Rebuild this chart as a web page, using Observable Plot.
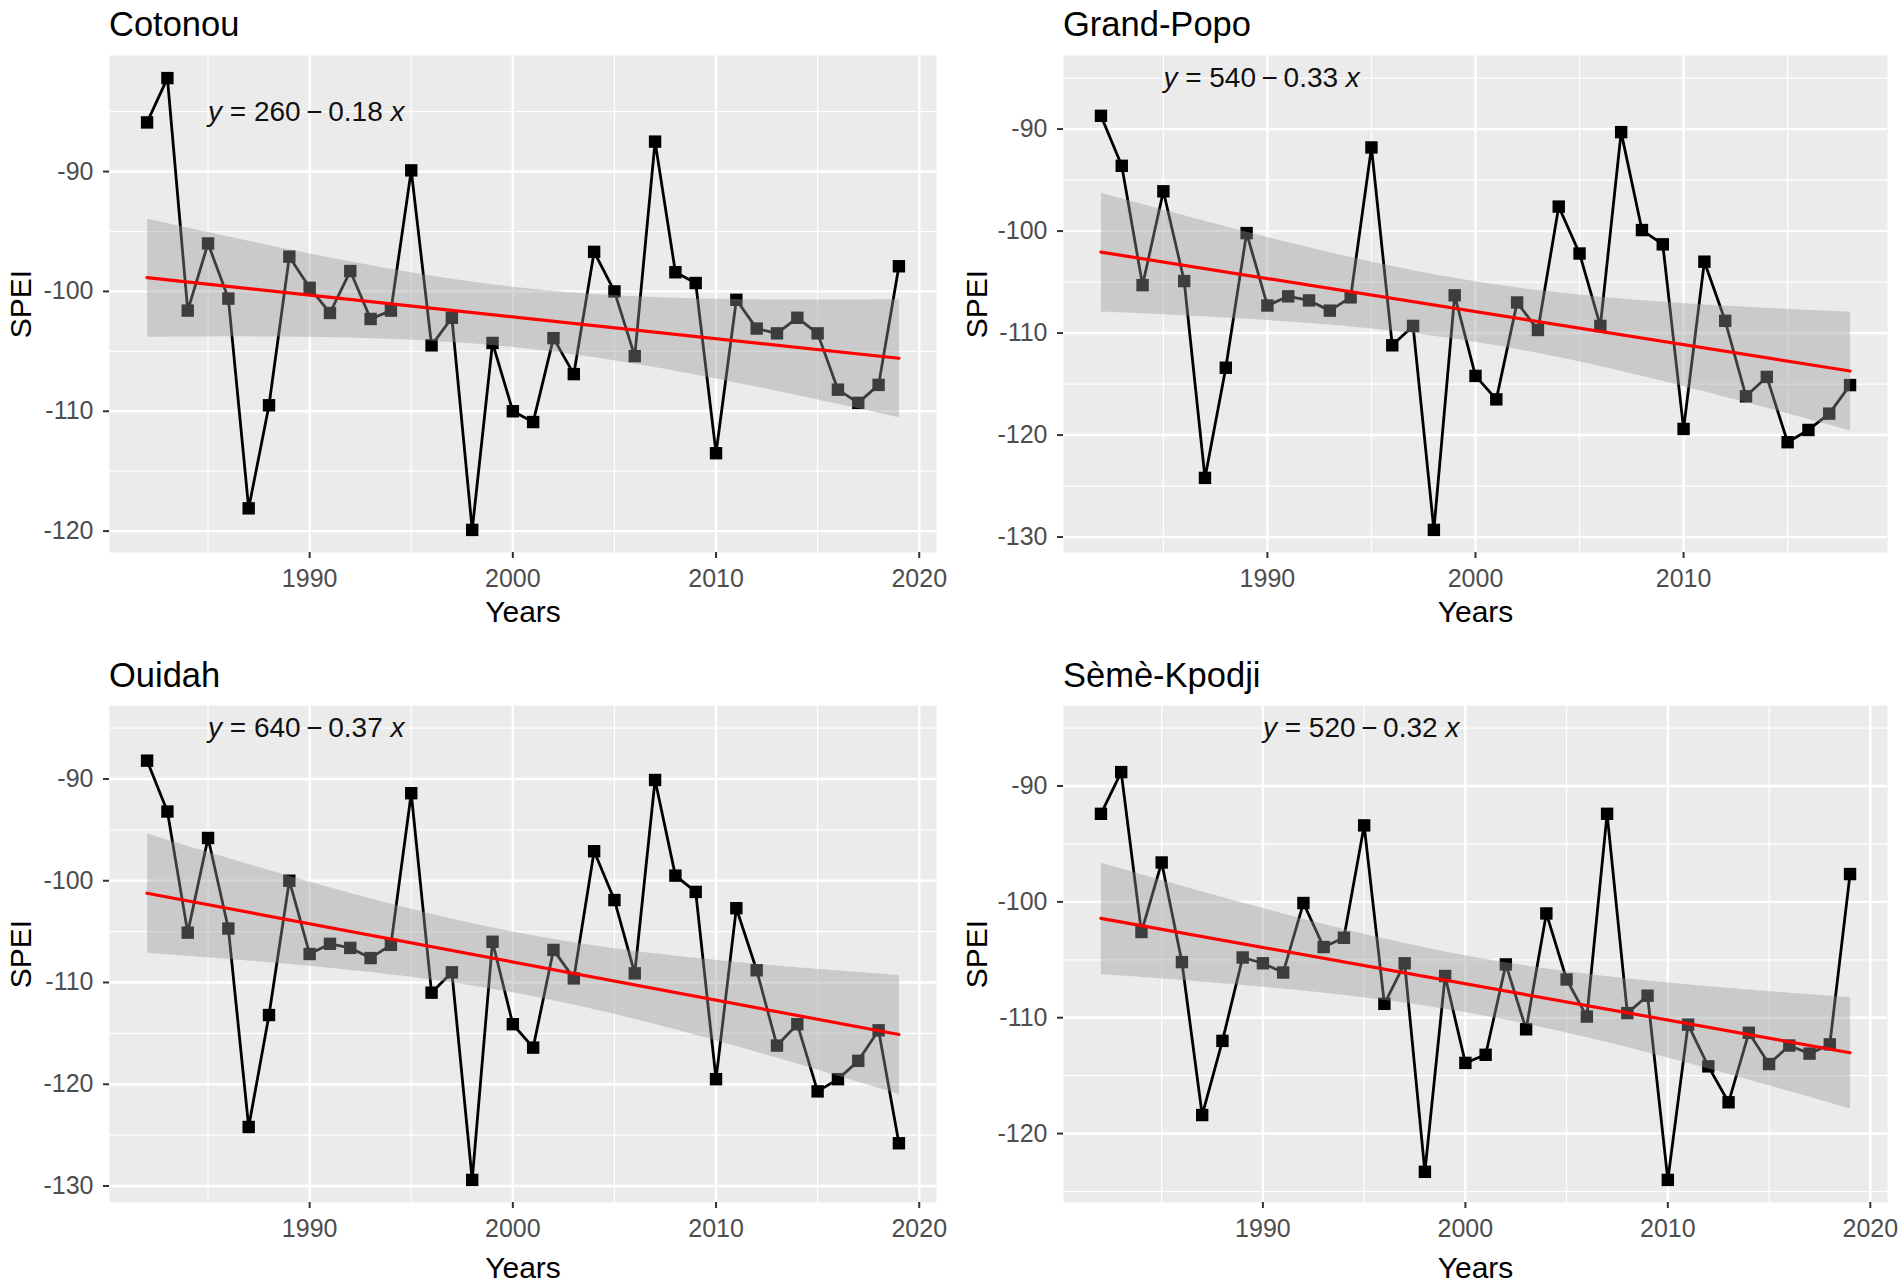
<!DOCTYPE html>
<html><head><meta charset="utf-8">
<script src="https://cdn.jsdelivr.net/npm/d3@7"></script>
<script src="https://cdn.jsdelivr.net/npm/@observablehq/plot@0.6"></script>
<style>
body{margin:0;background:#fff;}
#wrap{position:relative;width:1902px;height:1288px;font-family:"Liberation Sans",Arial,sans-serif;overflow:hidden;}
.panel{position:absolute;}
.title{position:absolute;font-size:34.5px;line-height:1;color:#000;white-space:nowrap;}
</style></head><body><div id="wrap"></div>
<script>
// ---- data ----
const yearsFull = [1982,1983,1984,1985,1986,1987,1988,1989,1990,1991,1992,1993,1994,1995,1996,1997,1998,1999,2000,2001,2002,2003,2004,2005,2006,2007,2008,2009,2010,2011,2012,2013,2014,2015,2016,2017,2018,2019];
const yearsGP = [1982,1983,1984,1985,1986,1987,1988,1989,1990,1991,1992,1993,1994,1995,1996,1997,1998,1999,2000,2001,2002,2003,2004,2005,2006,2007,2008,2009,2010,2011,2012,2013,2014,2015,2016,2017,2018];

const cotonou = [-85.9,-82.2,-101.6,-96.0,-100.6,-118.1,-109.5,-97.1,-99.7,-101.8,-98.3,-102.3,-101.6,-89.9,-104.5,-102.2,-119.9,-104.3,-110.0,-110.9,-103.9,-106.9,-96.7,-100.0,-105.4,-87.5,-98.4,-99.3,-113.5,-100.7,-103.1,-103.5,-102.2,-103.5,-108.2,-109.3,-107.8,-97.9];
const grandPopo = [-88.7,-93.6,-105.3,-96.1,-104.9,-124.2,-113.4,-100.2,-107.3,-106.4,-106.8,-107.8,-106.5,-91.8,-111.2,-109.3,-129.3,-106.3,-114.2,-116.5,-107.0,-109.7,-97.6,-102.2,-109.3,-90.3,-99.9,-101.3,-119.4,-103.0,-108.8,-116.2,-114.3,-120.7,-119.5,-117.9,-115.1];
const ouidah = [-88.2,-93.2,-105.1,-95.8,-104.7,-124.2,-113.2,-100.0,-107.2,-106.2,-106.6,-107.6,-106.3,-91.4,-111.0,-109.0,-129.4,-106.0,-114.1,-116.4,-106.8,-109.6,-97.1,-101.9,-109.1,-90.1,-99.5,-101.1,-119.5,-102.7,-108.8,-116.2,-114.1,-120.7,-119.5,-117.7,-114.7,-125.8];
const semeKpodji = [-92.4,-88.8,-102.6,-96.6,-105.2,-118.4,-112.0,-104.8,-105.3,-106.1,-100.1,-103.9,-103.1,-93.4,-108.8,-105.3,-123.3,-106.4,-113.9,-113.2,-105.4,-111.0,-101.0,-106.7,-109.9,-92.4,-109.6,-108.1,-124.0,-110.6,-114.2,-117.3,-111.3,-114.0,-112.4,-113.1,-112.3,-97.6];

const stations = ["Cotonou","Grand-Popo","Ouidah","Sèmè-Kpodji"];
const stationYears = [yearsFull, yearsGP, yearsFull, yearsFull];
const stationValues = [cotonou, grandPopo, ouidah, semeKpodji];
const eqLabels = ["y = 260\u2009−\u20090.18 x","y = 540\u2009−\u20090.33 x","y = 640\u2009−\u20090.37 x","y = 520\u2009−\u20090.32 x"];
const eqX = [1985,1985,1985,1990];
const eqY = [-85,-85,-85,-85];

const xMajor = [1990,2000,2010,2020];
const xMinor = [1985,1995,2005,2015];
const yMajor = [-90,-100,-110,-120,-130];
const yMinor = [-85,-95,-105,-115,-125];

// ---- layout ----
const FONT = '"Liberation Sans", Arial, sans-serif';
const cells = [
  {left:0,   top:0,   ml:109, mr:15, mt:55, mb:92, spei:-88, years:60, titleTop:7},
  {left:951, top:0,   ml:112, mr:15, mt:55, mb:92, spei:-86, years:60, titleTop:7},
  {left:0,   top:644, ml:109, mr:15, mt:61, mb:86, spei:-88, years:66, titleTop:14},
  {left:951, top:644, ml:112, mr:15, mt:61, mb:86, spei:-86, years:66, titleTop:14}
];

function expand(vals){
  const [a,b] = d3.extent(vals);
  const p = (b - a) * 0.05;
  return [a - p, b + p];
}
const inside = (arr, d) => arr.filter(v => v >= Math.min(...d) && v <= Math.max(...d));

const wrap = document.getElementById("wrap");

stations.forEach((name, i) => {
  const c = cells[i];
  const rows = stationYears[i].map((yr, j) => ({year: yr, spei: stationValues[i][j]}));
  const eq = [{x: eqX[i], y: eqY[i], label: eqLabels[i]}];
  const xd = expand([...stationYears[i], eqX[i]]);
  const yd = expand([...stationValues[i], eqY[i]]);

  const chart = Plot.plot({
    width: 951, height: 644,
    marginLeft: c.ml, marginRight: c.mr, marginTop: c.mt, marginBottom: c.mb,
    x: {domain: xd},
    y: {domain: yd},
    style: {fontFamily: FONT, fontSize: "25px", background: "transparent", overflow: "visible"},
    marks: [
      Plot.frame({fill: "#EBEBEB", stroke: null}),
      Plot.ruleY(inside(yMinor, yd), {stroke: "#fff", strokeWidth: 1.2}),
      Plot.ruleX(inside(xMinor, xd), {stroke: "#fff", strokeWidth: 1.2}),
      Plot.ruleY(inside(yMajor, yd), {stroke: "#fff", strokeWidth: 2.4}),
      Plot.ruleX(inside(xMajor, xd), {stroke: "#fff", strokeWidth: 2.4}),
      Plot.line(rows, {x: "year", y: "spei", stroke: "#000", strokeWidth: 2.8}),
      Plot.dot(rows, {x: "year", y: "spei", symbol: "square", r: 7, fill: "#000"}),
      Plot.linearRegressionY(rows, {x: "year", y: "spei", stroke: "#ff0000", strokeWidth: 3.2, fill: "#999999", fillOpacity: 0.4, ci: 0.95}),
      Plot.text(eq, {x: "x", y: "y", text: "label", textAnchor: "start", lineAnchor: "middle", fontSize: 28, fill: "#111"}),
      Plot.axisX(inside(xMajor, xd), {tickSize: 6, tickPadding: 11, stroke: "#333", strokeWidth: 2, fill: "#4D4D4D", tickFormat: d => String(d), label: null}),
      Plot.axisY(inside(yMajor, yd), {tickSize: 6, tickPadding: 10, stroke: "#333", strokeWidth: 2, fill: "#4D4D4D", tickFormat: d => String(d), label: null}),
      Plot.text(["Years"], {text: d => d, frameAnchor: "bottom", dy: c.years, lineAnchor: "middle", fontSize: 30, fill: "#000"}),
      Plot.text(["SPEI"], {text: d => d, frameAnchor: "left", dx: c.spei, rotate: -90, textAnchor: "middle", lineAnchor: "middle", fontSize: 30, fill: "#000"})
    ]
  });

  // italic y and x in the regression equation
  chart.querySelectorAll("text").forEach(t => {
    const s = t.textContent;
    const m = /^y( = .*? )x$/.exec(s);
    if (m && t.children.length === 0) {
      t.textContent = "";
      const ns = "http://www.w3.org/2000/svg";
      const a = document.createElementNS(ns, "tspan"); a.textContent = "y"; a.setAttribute("font-style", "italic");
      const b = document.createElementNS(ns, "tspan"); b.textContent = m[1];
      const e = document.createElementNS(ns, "tspan"); e.textContent = "x"; e.setAttribute("font-style", "italic");
      t.append(a, b, e);
    }
  });

  const holder = document.createElement("div");
  holder.className = "panel";
  holder.style.left = c.left + "px";
  holder.style.top = c.top + "px";
  holder.appendChild(chart);
  wrap.appendChild(holder);

  const title = document.createElement("div");
  title.className = "title";
  title.textContent = name;
  title.style.left = (c.left + c.ml) + "px";
  title.style.top = (c.top + c.titleTop) + "px";
  wrap.appendChild(title);
});
</script>
</body></html>
